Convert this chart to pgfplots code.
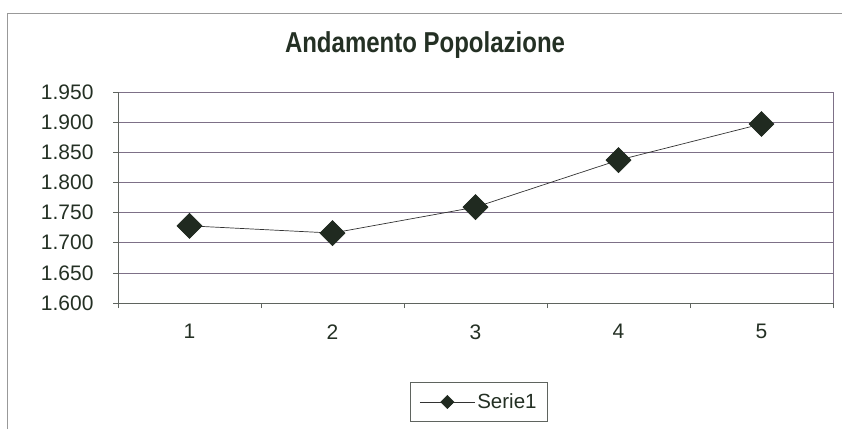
\documentclass[border=0pt]{standalone}
\usepackage{fontspec}
\setmainfont{Liberation Sans}
\usepackage{pgfplots}
\pgfplotsset{compat=1.18}
\definecolor{txt}{rgb}{0.14,0.19,0.14}
\definecolor{gridc}{RGB}{125,112,135}
\definecolor{axc}{RGB}{95,100,95}
\definecolor{mk}{RGB}{32,42,32}
\begin{document}
\begin{tikzpicture}[x=1pt,y=1pt]
\path[use as bounding box] (0,0) rectangle (842,429);
\draw[gray!80, line width=0.9pt] (7,0) -- (7,416) -- (842,416);
\node[txt, font=\fontsize{24}{28}\selectfont\bfseries, yscale=1.2, transform shape] at (425,384) {Andamento Popolazione};
\begin{axis}[
  at={(118pt,126pt)}, anchor=south west,
  scale only axis, width=715pt, height=211pt,
  xmin=0.5, xmax=5.5, ymin=1.6, ymax=1.95,
  xtick={0.5,1.5,2.5,3.5,4.5,5.5}, xticklabels={},
  extra x ticks={1,2,3,4,5}, extra x tick labels={1,2,3,4,5},
  extra x tick style={tick style={draw=none}},
  ytick={1.6,1.65,1.7,1.75,1.8,1.85,1.9,1.95},
  yticklabels={1.600,1.650,1.700,1.750,1.800,1.850,1.900,1.950},
  /pgf/number format/assume math mode=true,
  tick align=outside,
  major tick length=5pt,
  tick style={draw=axc, line width=0.6pt},
  axis x line*=bottom, axis y line*=left,
  axis line style={draw=axc, line width=0.7pt, -},
  ymajorgrids, major grid style={draw=gridc, line width=0.7pt},
  ticklabel style={font=\fontsize{21}{24}\selectfont, text=txt},
  yticklabel style={xshift=-16pt},
  xticklabel style={yshift=-13pt},
  legend style={at={(0.505,-0.469)}, anchor=center, draw=axc, line width=0.7pt,
    font=\fontsize{20.5}{24}\selectfont, text=txt, inner xsep=9pt, inner ysep=9pt},
  legend image code/.code={
    \draw[#1, mark=none] (0pt,0pt) -- (55pt,0pt);
    \draw[#1, only marks, mark size=4.6pt] plot coordinates {(27.5pt,0pt)};
  },
  clip=false,
]
\draw[gridc, line width=0.6pt] (axis cs:5.5,1.6) -- (axis cs:5.5,1.95);
\addplot[color=gray!40!black, line width=0.7pt, mark=square*, mark size=8.8pt,
  mark options={rotate=45, fill=mk, draw=mk}]
  coordinates {(1,1.728) (2,1.716) (3,1.759) (4,1.837) (5,1.897)};
\addlegendentry{Serie1}
\end{axis}
\end{tikzpicture}
\end{document}
